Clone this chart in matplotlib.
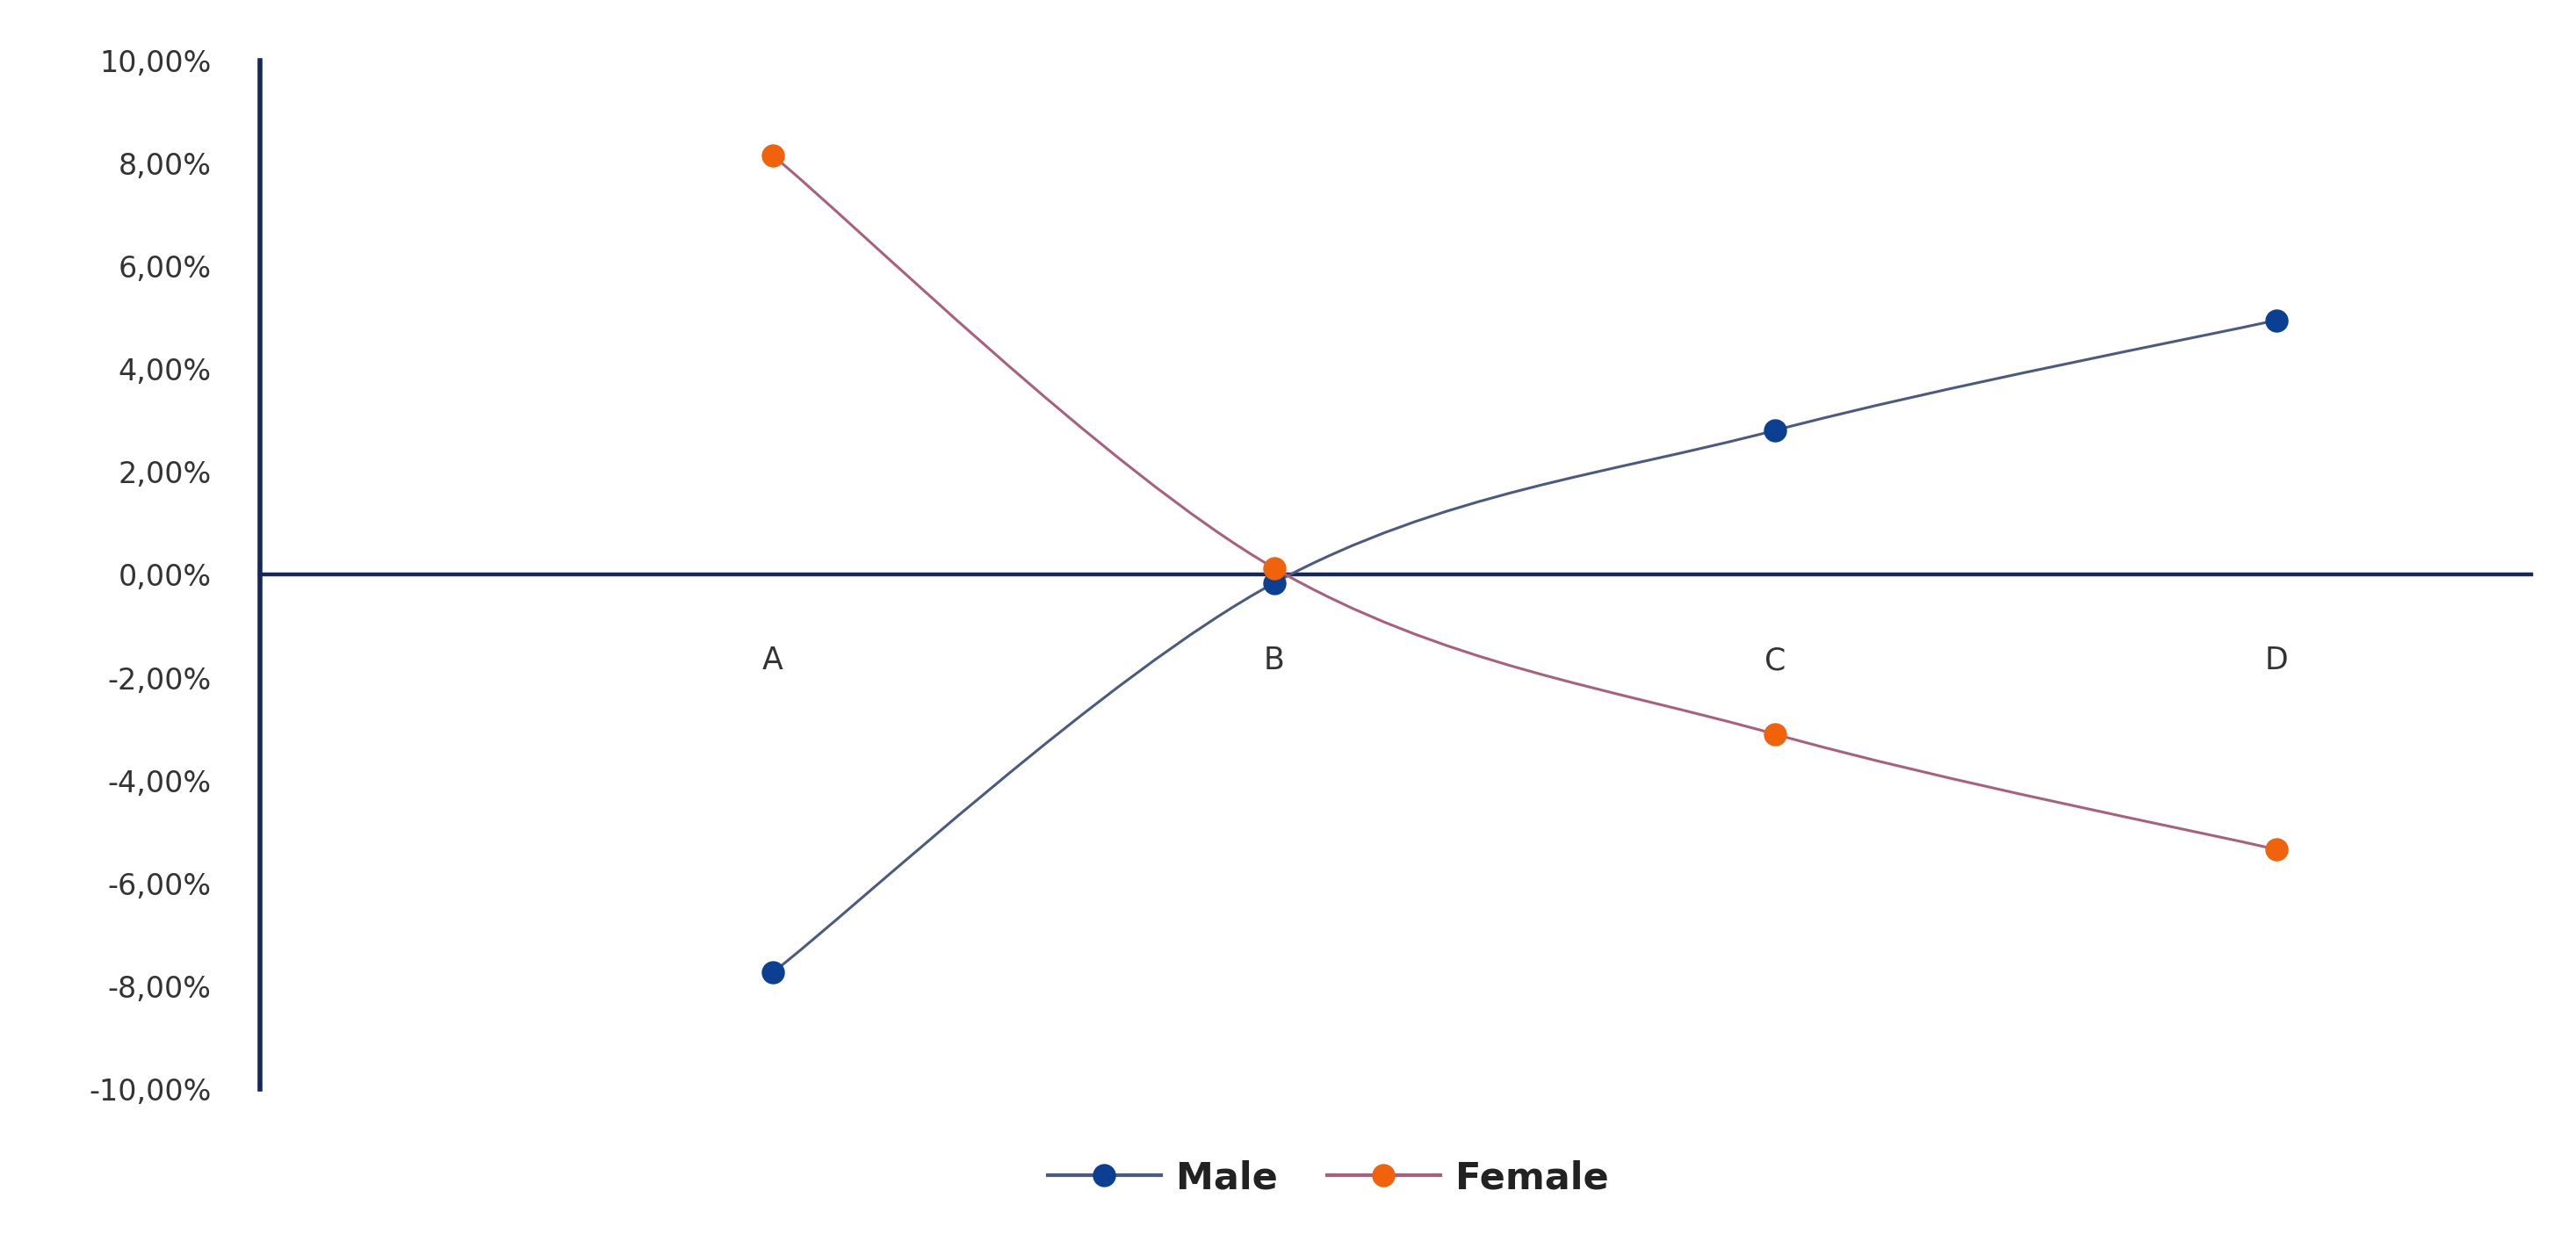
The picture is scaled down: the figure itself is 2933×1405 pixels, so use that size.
import matplotlib
matplotlib.use("Agg")
import matplotlib.pyplot as plt
from matplotlib.path import Path
from matplotlib.patches import PathPatch
from matplotlib.lines import Line2D
from matplotlib.ticker import FuncFormatter, MultipleLocator

categories = ["A", "B", "C", "D"]
male = [-7.73, -0.16, 2.81, 4.95]
female = [8.15, 0.13, -3.10, -5.34]
series_names = ["Male", "Female"]

male_line = "#4b5a80"
male_marker = "#0a3f92"
female_line = "#a8607c"
female_marker = "#f0620c"
axis_color = "#14285a"
text_color = "#333333"

fig = plt.figure(figsize=(29.33, 14.05), dpi=100)
ax = fig.add_axes([0.101, 0.1174, 0.8816, 0.8336])

x = list(range(len(categories)))


def smooth_path(xs, ys):
    # Excel-style smoothed line as cubic Bezier segments through the points
    n = len(xs)
    verts = [(xs[0], ys[0])]
    codes = [Path.MOVETO]
    for i in range(n - 1):
        x0, y0 = (xs[i - 1], ys[i - 1]) if i > 0 else (xs[i], ys[i])
        x1, y1 = xs[i], ys[i]
        x2, y2 = xs[i + 1], ys[i + 1]
        x3, y3 = (xs[i + 2], ys[i + 2]) if i + 2 < n else (x2, y2)
        c1 = (x1 + (x2 - x0) / 6.0, y1 + (y2 - y0) / 6.0)
        c2 = (x2 - (x3 - x1) / 6.0, y2 - (y3 - y1) / 6.0)
        verts += [c1, c2, (x2, y2)]
        codes += [Path.CURVE4] * 3
    return Path(verts, codes)


for ys, lc, mc in [(male, male_line, male_marker), (female, female_line, female_marker)]:
    ax.add_patch(PathPatch(smooth_path(x, ys), facecolor="none", edgecolor=lc,
                           linewidth=2.2, zorder=3))
    ax.plot(x, ys, linestyle="none", marker="o", markersize=18,
            markerfacecolor=mc, markeredgecolor=mc, zorder=4)

ax.set_xlim(-1.023, 3.508)
ax.set_ylim(-10, 10)

for s in ["top", "right"]:
    ax.spines[s].set_visible(False)
ax.spines["bottom"].set_position(("data", 0))
ax.spines["left"].set_color(axis_color)
ax.spines["bottom"].set_color(axis_color)
ax.spines["left"].set_linewidth(4.0)
ax.spines["bottom"].set_linewidth(3.2)

ax.set_xticks(x)
ax.set_xticklabels(categories)
ax.yaxis.set_major_locator(MultipleLocator(2))
ax.yaxis.set_major_formatter(FuncFormatter(lambda v, p: f"{v:.2f}".replace(".", ",") + "%"))
ax.tick_params(axis="x", length=0, pad=58, labelsize=25, labelcolor=text_color)
ax.tick_params(axis="y", length=0, pad=40, labelsize=24, labelcolor=text_color)

handles = [
    Line2D([], [], color=male_line, linewidth=3, marker="o", markersize=18,
           markerfacecolor=male_marker, markeredgecolor=male_marker),
    Line2D([], [], color=female_line, linewidth=3, marker="o", markersize=18,
           markerfacecolor=female_marker, markeredgecolor=female_marker),
]
fig.legend(handles, series_names, loc="center", bbox_to_anchor=(0.5156, 0.0453),
           ncol=2, frameon=False, handlelength=3.0, columnspacing=1.3,
           handletextpad=0.4, labelcolor="#222222",
           prop={"size": 31, "weight": "bold"})

fig.savefig("out.png", dpi=100)
